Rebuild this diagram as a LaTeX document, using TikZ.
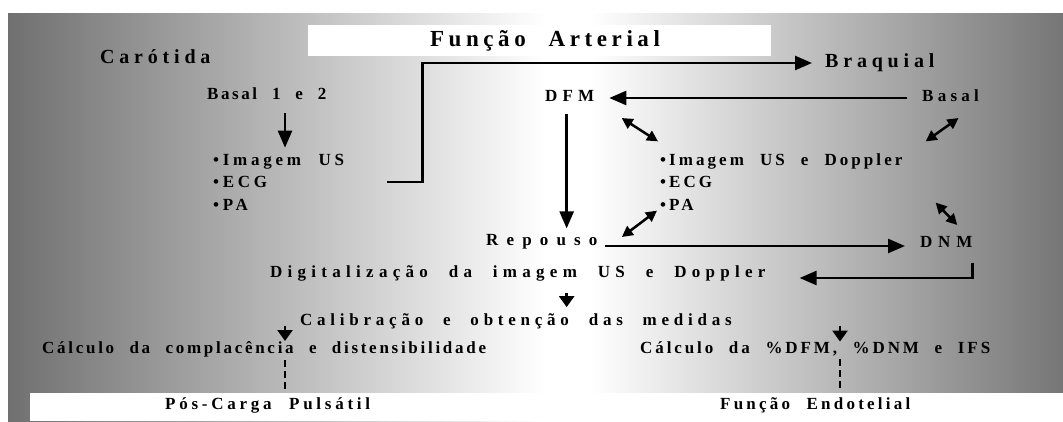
\documentclass[tikz,border=0pt]{standalone}
\usepackage{fontspec}
\usetikzlibrary{arrows.meta,calc}
\newfontfamily\spc[WordSpace=2.2]{Liberation Serif}
\newcommand\bodyfont[1]{\spc\bfseries\fontsize{17}{22.5}\selectfont\addfontfeature{LetterSpace=#1}}
\newcommand\bigfont[1]{\spc\bfseries\fontsize{20}{24}\selectfont\addfontfeature{LetterSpace=#1}}
\newcommand\titlefont{\spc\bfseries\fontsize{23}{26}\selectfont\addfontfeature{LetterSpace=20}}
\definecolor{leftgray}{RGB}{112,112,112}
\definecolor{rightgray}{RGB}{118,118,118}
\tikzset{
  txt/.style={font=\bodyfont{#1}, inner sep=0pt},
  txt/.default=27,
  big/.style={font=\bigfont{24}, inner sep=0pt},
  arr/.style={-{Triangle[length=17pt,width=14pt]}, line width=2.5pt},
  sarr/.style={-{Triangle[length=11pt,width=15pt]}, line width=2.5pt},
  dbl/.style={{Triangle[length=11pt,width=11pt]}-{Triangle[length=11pt,width=11pt]}, line width=2.5pt},
  dashline/.style={line width=2.5pt, dash pattern=on 7pt off 4pt},
}
\begin{document}
\begin{tikzpicture}[x=1pt, y=-1pt]
\useasboundingbox (0, 0) rectangle (1063, 421);
\fill[white] (0, 0) rectangle (1063, 421);
\shade[left color=leftgray, right color=white] (8, 13) rectangle (545, 421);
\fill[white] (545, 13) rectangle (590, 393);
\shade[left color=white, right color=rightgray] (590, 13) rectangle (1063, 393);
\fill[white] (30, 393) rectangle (1063, 421);
\fill[white] (308, 25) rectangle (771, 56);
\node[font=\titlefont, inner sep=0pt] at (545, 41) (title) {Função Arterial};
\node[big, anchor=west] at (100, 57) (caro) {Carótida};
\node[big, anchor=west] at (825, 63) (braq) {Braquial};
\node[txt=15, anchor=west] at (207, 94) (bas12) {Basal 1 e 2};
\node[txt=22, anchor=west, align=left] at (213, 182) (listC) {•Imagem US\\•ECG\\•PA};
\node[txt=30, anchor=west] at (545, 96) (dfm) {DFM};
\node[txt=25, anchor=west] at (922, 96) (basal) {Basal};
\node[txt=18, anchor=west, align=left] at (660, 182) (listB) {•Imagem US e Doppler\\•ECG\\•PA};
\node[txt=48, anchor=west] at (486, 242) (rep) {Repouso};
\node[txt=34, anchor=west] at (920, 242) (dnm) {DNM};
\node[txt=31, anchor=west] at (270, 273) (dig) {Digitalização da imagem US e Doppler};
\node[txt=28, anchor=west] at (300, 321) (cal) {Calibração e obtenção das medidas};
\node[txt=16, anchor=west] at (42, 349) (calcL) {Cálculo da complacência e distensibilidade};
\node[txt=17, anchor=west] at (640, 349) (calcR) {Cálculo da \%DFM, \%DNM e IFS};
\node[txt=22, anchor=west] at (165, 405) (pos) {Pós-Carga Pulsátil};
\node[txt=19, anchor=west] at (720, 405) (endo) {Função Endotelial};
\coordinate (colL) at (285, 0);
\coordinate (colR) at (840, 0);
\draw[arr, shorten <=13pt, shorten >=6pt] (bas12.south -| colL) -- (listC.north -| colL);
\draw[arr, shorten >=13pt] ([xshift=43]listC.east) -- ++(35, 0) |- (braq.west);
\draw[arr, shorten <=15pt, shorten >=15pt] ([yshift=-2]basal.west) -- ([yshift=-2]basal.west -| dfm.east);
\draw[arr, shorten <=12pt, shorten >=6pt] ([xshift=-3]dfm.south) -- ([xshift=-3]dfm.south |- rep.north);
\draw[arr, shorten <=7pt, shorten >=15pt] ([yshift=-4]rep.east) -- ([yshift=-4]rep.east -| dnm.west);
\draw[arr, shorten <=15pt] ([xshift=26]dnm.south) |- ([xshift=34, yshift=-5]dig.east);
\draw[sarr, shorten <=12pt, shorten >=6pt] ([xshift=-3]dig.south -| dfm.south) -- ([xshift=-3]cal.north -| dfm.south);
\draw[sarr, shorten <=-3pt] (cal.south -| colL) -- (calcL.north -| colL);
\draw[sarr, shorten <=-3pt] (cal.south -| colR) -- (calcR.north -| colR);
\draw[dashline, shorten <=3pt, shorten >=5pt] (calcL.south -| colL) -- (pos.north -| colL);
\draw[dashline, shorten <=3pt, shorten >=5pt] (calcR.south -| colR) -- (endo.north -| colR);
\draw[dbl] ([shift={(52,22)}]dfm.center) -- ([shift={(-2,-12)}]listB.north west);
\draw[dbl] ([shift={(8,22)}]basal.center) -- ([shift={(23,-12)}]listB.north east);
\draw[dbl] ([shift={(80,-5)}]rep.center) -- ([shift={(-3,0)}]listB.south west);
\draw[dbl] ([shift={(33,-8)}]listB.south east) -- ([shift={(11,-17)}]dnm.center);
\end{tikzpicture}
\end{document}
